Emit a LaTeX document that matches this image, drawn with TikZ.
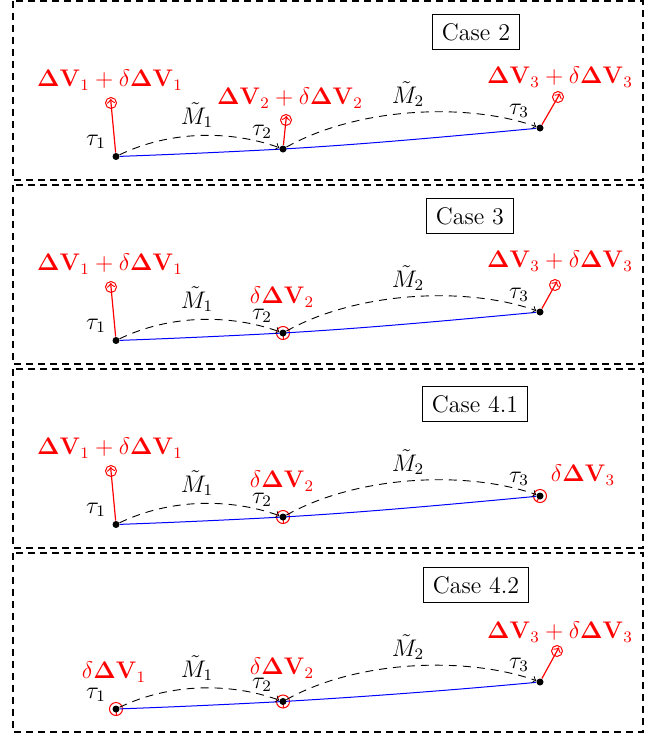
\documentclass[tikz,border=0pt]{standalone}
\usepackage{amsmath}
\usetikzlibrary{calc}
\pgfdeclarelayer{fg}
\pgfsetlayers{main,fg}
\tikzset{
  panelframe/.style={line width=1pt, dash pattern=on 3.5pt off 2.5pt},
  casebox/.style={draw, line width=0.5pt, inner sep=4.5pt, font=\large},
  tdot/.style={circle, fill=black, inner sep=0pt, minimum size=3.5pt},
  ring/.style={circle, draw=red, line width=0.5pt, inner sep=0pt, minimum size=5.5pt},
  bigring/.style={ring, minimum size=6.5pt},
  imparrow/.style={red, line width=0.6pt, ->, shorten >=-2pt},
  tinyarrow/.style={red, line width=0.5pt},
  traj/.style={blue, line width=0.5pt},
  coast/.style={dash pattern=on 4pt off 3pt, line width=0.45pt, ->},
  redlab/.style={red, font=\large},
  blklab/.style={font=\large},
}
\begin{document}
\begin{tikzpicture}[x=0.5pt, y=-0.5pt]
\useasboundingbox (0,0) rectangle (655,740);

% ---------------- Panel 1: Case 2
\begin{scope}
\draw[panelframe] (13,1) rectangle (643,180);
\node[casebox] (cb1) at (476,32) {Case 2};
\begin{pgfonlayer}{fg}
\node[tdot] (a1) at (116,156.5) {};
\node[tdot] (a2) at (283,149) {};
\node[tdot] (a3) at (540,128) {};
\end{pgfonlayer}
\node[ring] (ar1) at (111,103) {};
\node[ring] (ar2) at (286,120) {};
\node[ring] (ar3) at (558,97) {};
\draw[traj] (a1) .. controls +(56,-2) and +(-56,3) .. (a2.center) .. controls +(86,-5) and +(-86,8) .. (a3);
\draw[coast] (a1) .. controls +(54,-26) and +(-53,-19) .. (a2);
\draw[coast] (a2) .. controls +(77,-43) and +(-70,-25) .. (a3);
\draw[imparrow] (a1) -- (ar1.center);
\draw[imparrow] (a2) -- (ar2.center);
\draw[imparrow] (a3) -- (ar3.center);
\node[redlab] (al1) at (110,80) {$\mathbf{\Delta V}_1+\delta\mathbf{\Delta V}_1$};
\node[redlab] (al2) at (290,98) {$\mathbf{\Delta V}_2+\delta\mathbf{\Delta V}_2$};
\node[redlab] (al3) at (560,77) {$\mathbf{\Delta V}_3+\delta\mathbf{\Delta V}_3$};
\node[blklab] (at1) at (96,142) {$\tau_1$};
\node[blklab] (at2) at (262,132) {$\tau_2$};
\node[blklab] (at3) at (519,111) {$\tau_3$};
\node[blklab] (am1) at (197,115) {$\tilde{M}_1$};
\node[blklab] (am2) at (408,94) {$\tilde{M}_2$};
\end{scope}

% ---------------- Panel 2: Case 3
\begin{scope}[shift={(0,184)}]
\draw[panelframe] (13,1) rectangle (643,180);
\node[casebox] (cb2) at (470,32) {Case 3};
\begin{pgfonlayer}{fg}
\node[tdot] (b1) at (116,156.5) {};
\node[tdot] (b2) at (283,149) {};
\node[tdot] (b3) at (540,128) {};
\end{pgfonlayer}
\node[ring] (br1) at (111,103) {};
\node[bigring] (br2) at (b2) {};
\node[ring] (br3) at (555,101) {};
\draw[traj] (b1) .. controls +(56,-2) and +(-56,3) .. (b2.center) .. controls +(86,-5) and +(-86,8) .. (b3);
\draw[coast] (b1) .. controls +(54,-26) and +(-53,-19) .. (b2);
\draw[coast] (b2) .. controls +(77,-43) and +(-70,-25) .. (b3);
\draw[imparrow] (b1) -- (br1.center);
\draw[tinyarrow] ($(b2)+(0.5,6.5)$) -- (b2.center);
\draw[imparrow] (b3) -- (br3.center);
\node[redlab] (bl1) at (110,80) {$\mathbf{\Delta V}_1+\delta\mathbf{\Delta V}_1$};
\node[redlab] (bl2) at (282,113) {$\delta\mathbf{\Delta V}_2$};
\node[redlab] (bl3) at (560,77) {$\mathbf{\Delta V}_3+\delta\mathbf{\Delta V}_3$};
\node[blklab] (bt1) at (96,142) {$\tau_1$};
\node[blklab] (bt2) at (262,132) {$\tau_2$};
\node[blklab] (bt3) at (519,111) {$\tau_3$};
\node[blklab] (bm1) at (197,115) {$\tilde{M}_1$};
\node[blklab] (bm2) at (408,94) {$\tilde{M}_2$};
\end{scope}

% ---------------- Panel 3: Case 4.1
\begin{scope}[shift={(0,368)}]
\draw[panelframe] (13,1) rectangle (643,180);
\node[casebox] (cb3) at (475,36) {Case 4.1};
\begin{pgfonlayer}{fg}
\node[tdot] (c1) at (116,156.5) {};
\node[tdot] (c2) at (283,149) {};
\node[tdot] (c3) at (540,128) {};
\end{pgfonlayer}
\node[ring] (cr1) at (111,103) {};
\node[bigring] (cr2) at (c2) {};
\node[bigring] (cr3) at (c3) {};
\draw[traj] (c1) .. controls +(56,-2) and +(-56,3) .. (c2.center) .. controls +(86,-5) and +(-86,8) .. (c3);
\draw[coast] (c1) .. controls +(54,-26) and +(-53,-19) .. (c2);
\draw[coast] (c2) .. controls +(77,-43) and +(-70,-25) .. (c3);
\draw[imparrow] (c1) -- (cr1.center);
\draw[tinyarrow] ($(c2)+(0.5,6.5)$) -- (c2.center);
\draw[tinyarrow] ($(c3)+(-3.3,5.6)$) -- (c3.center);
\node[redlab] (cl1) at (110,80) {$\mathbf{\Delta V}_1+\delta\mathbf{\Delta V}_1$};
\node[redlab] (cl2) at (282,113) {$\delta\mathbf{\Delta V}_2$};
\node[redlab] (cl3) at (583,107) {$\delta\mathbf{\Delta V}_3$};
\node[blklab] (ct1) at (96,142) {$\tau_1$};
\node[blklab] (ct2) at (262,132) {$\tau_2$};
\node[blklab] (ct3) at (519,111) {$\tau_3$};
\node[blklab] (cm1) at (197,115) {$\tilde{M}_1$};
\node[blklab] (cm2) at (408,94) {$\tilde{M}_2$};
\end{scope}

% ---------------- Panel 4: Case 4.2
\begin{scope}[shift={(0,552)}]
\draw[panelframe] (13,1) rectangle (643,180);
\node[casebox] (cb4) at (476,33) {Case 4.2};
\begin{pgfonlayer}{fg}
\node[tdot] (d1) at (116,157) {};
\node[tdot] (d2) at (283,149.5) {};
\node[tdot] (d3) at (540,130) {};
\end{pgfonlayer}
\node[bigring] (dr1) at (d1) {};
\node[bigring] (dr2) at (d2) {};
\node[ring] (dr3) at (557,99) {};
\draw[traj] (d1) .. controls +(56,-2) and +(-56,3) .. (d2.center) .. controls +(86,-5) and +(-86,8) .. (d3);
\draw[coast] (d1) .. controls +(54,-26) and +(-53,-19) .. (d2);
\draw[coast] (d2) .. controls +(77,-43) and +(-70,-25) .. (d3);
\draw[tinyarrow] ($(d1)+(0.5,6.5)$) -- (d1.center);
\draw[tinyarrow] ($(d2)+(0.5,6.5)$) -- (d2.center);
\draw[imparrow] (d3) -- (dr3.center);
\node[redlab] (dl1) at (114,120) {$\delta\mathbf{\Delta V}_1$};
\node[redlab] (dl2) at (282,116) {$\delta\mathbf{\Delta V}_2$};
\node[redlab] (dl3) at (560,80) {$\mathbf{\Delta V}_3+\delta\mathbf{\Delta V}_3$};
\node[blklab] (dt1) at (96,143) {$\tau_1$};
\node[blklab] (dt2) at (262,133) {$\tau_2$};
\node[blklab] (dt3) at (519,113) {$\tau_3$};
\node[blklab] (dm1) at (197,116) {$\tilde{M}_1$};
\node[blklab] (dm2) at (408,95) {$\tilde{M}_2$};
\end{scope}
\end{tikzpicture}
\end{document}
